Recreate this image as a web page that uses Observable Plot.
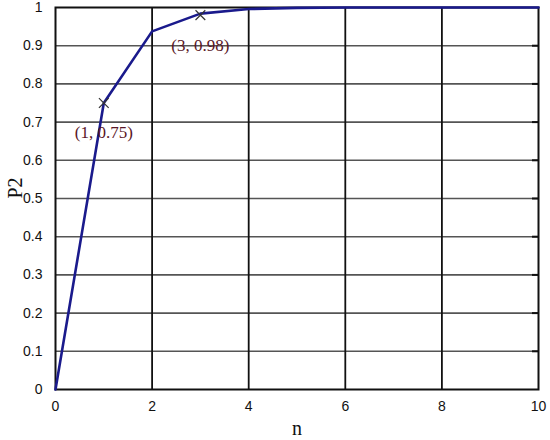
<!DOCTYPE html>
<html>
<head>
<meta charset="utf-8">
<script src="https://cdn.jsdelivr.net/npm/d3@7"></script>
<script src="https://cdn.jsdelivr.net/npm/@observablehq/plot@0.6"></script>
<style>
  html, body { margin: 0; padding: 0; background: #fff; }
</style>
</head>
<body>
<div id="chart"></div>
<script>
const nValues = [0, 1, 2, 3, 4, 5, 6, 7, 8, 9, 10];
const p2Values = [0, 0.75, 0.9375, 0.984, 0.996, 0.999, 1, 1, 1, 1, 1];
const xTicks = [0, 2, 4, 6, 8, 10];
const yTicks = [0, 0.1, 0.2, 0.3, 0.4, 0.5, 0.6, 0.7, 0.8, 0.9, 1];
const annotN = [1, 3];
const annotP = [0.75, 0.98];
const annotLabels = ["(1, 0.75)", "(3, 0.98)"];

const data = nValues.map((n, i) => ({n, p: p2Values[i]}));
const annots = annotN.map((n, i) => ({n, p: annotP[i], label: annotLabels[i]}));
const fmt = d => String(d);
const xMax = xTicks[xTicks.length - 1];
const serif = "Liberation Serif, Times New Roman, serif";

const chart = Plot.plot({
  width: 550,
  height: 440,
  marginLeft: 55,
  marginRight: 12,
  marginTop: 7,
  marginBottom: 51,
  style: {fontFamily: "Liberation Sans, Arial, sans-serif", fontSize: "14px", color: "#111", background: "#fff"},
  x: {type: "linear", domain: [0, 10], label: null},
  y: {type: "linear", domain: [0, 1], label: null},
  marks: [
    Plot.ruleY(yTicks.slice(1, -1), {stroke: "#555", strokeWidth: 1.6}),
    Plot.ruleX(xTicks.slice(1, -1), {stroke: "#111", strokeWidth: 1.8}),
    Plot.ruleY(yTicks.slice(1, -1), {x1: xMax, x2: xMax, insetLeft: -6, stroke: "#111", strokeWidth: 2}),
    Plot.frame({stroke: "#111", strokeWidth: 2}),
    Plot.line(data, {x: "n", y: "p", stroke: "#1a1a8c", strokeWidth: 2.6}),
    Plot.dot(annots, {x: "n", y: "p", symbol: "times", r: 4.5, stroke: "#333", strokeWidth: 1.2}),
    Plot.text(annots, {x: "n", y: "p", text: "label", dy: 30, fill: "#5a1626", fontFamily: serif, fontSize: 17}),
    Plot.axisX({ticks: xTicks, tickSize: 0, tickPadding: 12, label: null, fontSize: 14, tickFormat: fmt}),
    Plot.axisY({ticks: yTicks, tickSize: 0, tickPadding: 13, label: null, fontSize: 14, tickFormat: fmt}),
    Plot.text(["n"], {frameAnchor: "bottom", dy: 45, fontFamily: serif, fontSize: 20, fill: "#111"}),
    Plot.text(["P2"], {frameAnchor: "left", dx: -40, rotate: -90, fontFamily: serif, fontSize: 20, fill: "#111"})
  ]
});
document.getElementById("chart").appendChild(chart);
</script>
</body>
</html>
